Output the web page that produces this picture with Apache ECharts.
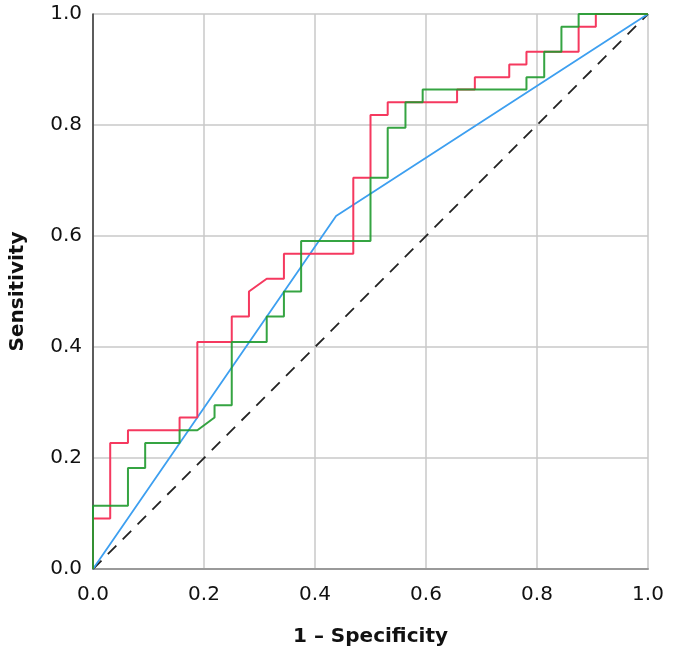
<!DOCTYPE html>
<html>
<head>
<meta charset="utf-8">
<script src="https://cdn.jsdelivr.net/npm/echarts@6/dist/echarts.min.js"></script>
<style>
 html, body { margin: 0; padding: 0; background: #fff; }
 #main { width: 673px; height: 657px; }
</style>
</head>
<body>
<div id="main"></div>
<script>
 // 刻度
 var ticks = [0.0, 0.2, 0.4, 0.6, 0.8, 1.0];

 // 红色 ROC 曲线 (1 - 特异度, 灵敏度)
 var redX = [0, 0, 0.031, 0.031, 0.063, 0.063, 0.156, 0.156, 0.188, 0.188, 0.25, 0.25,
   0.281, 0.281, 0.313, 0.344, 0.344, 0.469, 0.469, 0.5, 0.5, 0.531, 0.531, 0.656,
   0.656, 0.688, 0.688, 0.75, 0.75, 0.781, 0.781, 0.875, 0.875, 0.906, 0.906, 1];
 var redY = [0, 0.091, 0.091, 0.227, 0.227, 0.25, 0.25, 0.273, 0.273, 0.409, 0.409, 0.455,
   0.455, 0.5, 0.523, 0.523, 0.568, 0.568, 0.705, 0.705, 0.818, 0.818, 0.841, 0.841,
   0.864, 0.864, 0.886, 0.886, 0.909, 0.909, 0.932, 0.932, 0.977, 0.977, 1, 1];

 // 绿色 ROC 曲线
 var greenX = [0, 0, 0.063, 0.063, 0.094, 0.094, 0.156, 0.156, 0.188, 0.219, 0.219, 0.25,
   0.25, 0.313, 0.313, 0.344, 0.344, 0.375, 0.375, 0.5, 0.5, 0.531, 0.531, 0.563,
   0.563, 0.594, 0.594, 0.781, 0.781, 0.813, 0.813, 0.844, 0.844, 0.875, 0.875, 1];
 var greenY = [0, 0.114, 0.114, 0.182, 0.182, 0.227, 0.227, 0.25, 0.25, 0.273, 0.295, 0.295,
   0.409, 0.409, 0.455, 0.455, 0.5, 0.5, 0.591, 0.591, 0.705, 0.705, 0.795, 0.795,
   0.841, 0.841, 0.864, 0.864, 0.886, 0.886, 0.932, 0.932, 0.977, 0.977, 1, 1];

 // 蓝色曲线
 var blueX = [0, 0.438, 1];
 var blueY = [0, 0.636, 1];

 // 参考线
 var refX = [0, 1];
 var refY = [0, 1];

 function pairs(xs, ys) {
   return xs.map(function (x, i) { return [x, ys[i]]; });
 }

 var font = 'DejaVu Sans';
 var myChart = echarts.init(document.getElementById('main'));
 var option = {
   animation: false,
   backgroundColor: '#fff',
   grid: { left: 93, right: 25, top: 14, bottom: 88, containLabel: false, outerBoundsMode: 'none' },
   xAxis: {
     type: 'value', min: ticks[0], max: ticks[ticks.length - 1], interval: 0.2,
     name: '1 \u2013 Specificity', nameLocation: 'middle', nameGap: 58,
     nameTextStyle: { fontFamily: font, fontWeight: 'bold', fontSize: 20, color: '#111' },
     axisLine: { show: true, lineStyle: { color: '#9a9a9a', width: 2 } },
     axisTick: { show: false },
     axisLabel: { fontFamily: font, fontSize: 20, color: '#111', margin: 16,
       formatter: function (v) { return v.toFixed(1); } },
     splitLine: { show: true, lineStyle: { color: '#c8c8c8', width: 1.5 } }
   },
   yAxis: {
     type: 'value', min: ticks[0], max: ticks[ticks.length - 1], interval: 0.2,
     name: 'Sensitivity', nameLocation: 'middle', nameGap: 65,
     nameTextStyle: { fontFamily: font, fontWeight: 'bold', fontSize: 20, color: '#111' },
     axisLine: { show: true, lineStyle: { color: '#333', width: 1.5 } },
     axisTick: { show: false },
     axisLabel: { fontFamily: font, fontSize: 20, color: '#111', margin: 11,
       formatter: function (v) { return v.toFixed(1); } },
     splitLine: { show: true, lineStyle: { color: '#c8c8c8', width: 1.5 } }
   },
   series: [
     { type: 'line', data: pairs(refX, refY), symbol: 'none', silent: true,
       lineStyle: { color: '#222', width: 1.8, type: [12, 9] } },
     { type: 'line', data: pairs(blueX, blueY), symbol: 'none',
       lineStyle: { color: '#3d9ff0', width: 1.8 } },
     { type: 'line', data: pairs(redX, redY), symbol: 'none',
       lineStyle: { color: '#f5395f', width: 2 } },
     { type: 'line', data: pairs(greenX, greenY), symbol: 'none',
       lineStyle: { color: '#1f9a2e', width: 2, opacity: 0.9 } }
   ]
 };
 myChart.setOption(option);
</script>
</body>
</html>
